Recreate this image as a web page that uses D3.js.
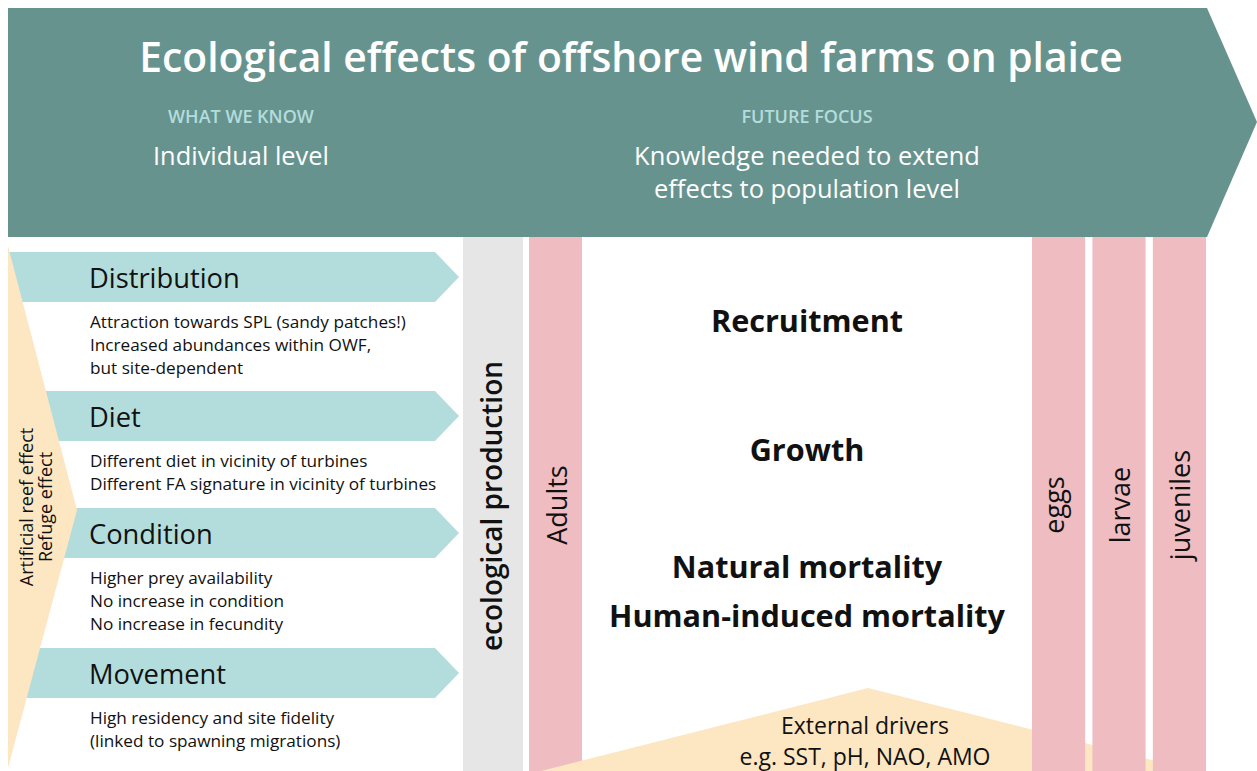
<!DOCTYPE html>
<html>
<head>
<meta charset="utf-8">
<script src="https://cdn.jsdelivr.net/npm/d3@7"></script>
<style>
  body { margin: 0; background: #fff; }
  svg { display: block; }
  text { font-family: "Open Sans", "Noto Sans", sans-serif; }
</style>
</head>
<body>
<script>
// Indhold: tekster til diagrammet
const title = "Ecological effects of offshore wind farms on plaice";
const headings = ["WHAT WE KNOW", "FUTURE FOCUS"];
const headingTexts = [["Individual level"], ["Knowledge needed to extend", "effects to population level"]];
const categories = ["Distribution", "Diet", "Condition", "Movement"];
const descriptions = [
  ["Attraction towards SPL (sandy patches!)", "Increased abundances within OWF,", "but site-dependent"],
  ["Different diet in vicinity of turbines", "Different FA signature in vicinity of turbines"],
  ["Higher prey availability", "No increase in condition", "No increase in fecundity"],
  ["High residency and site fidelity", "(linked to spawning migrations)"]
];
const reefLabels = ["Artificial reef effect", "Refuge effect"];
const productionLabel = "ecological production";
const adultStage = "Adults";
const earlyStages = ["eggs", "larvae", "juveniles"];
const processes = ["Recruitment", "Growth", "Natural mortality", "Human-induced mortality"];
const drivers = ["External drivers", "e.g. SST, pH, NAO, AMO"];

const width = 1257, height = 771;
const teal = "#67938f", lightTeal = "#b3dddc", sand = "#fde6c2", pink = "#eebcc1", grey = "#e6e6e6", ink = "#111";

const svg = d3.select("body").append("svg").attr("width", width).attr("height", height);

// Banner øverst
svg.append("path")
  .attr("d", "M8,8 L1207,8 L1257,122 L1207,237 L8,237 Z")
  .attr("fill", teal);

svg.append("text")
  .attr("x", 631).attr("y", 72)
  .attr("text-anchor", "middle")
  .attr("fill", "#fff")
  .style("font-size", "40.8px").style("font-weight", 600)
  .text(title);

const headX = [241, 807];
headings.forEach((h, i) => {
  svg.append("text")
    .attr("x", headX[i]).attr("y", 123)
    .attr("text-anchor", "middle")
    .attr("fill", lightTeal)
    .style("font-size", "18px").style("font-weight", 600)
    .text(h);
  headingTexts[i].forEach((t, j) => {
    svg.append("text")
      .attr("x", headX[i]).attr("y", 165 + j * 33)
      .attr("text-anchor", "middle")
      .attr("fill", "#fff")
      .style("font-size", "25.4px")
      .text(t);
  });
});

// Pile for hver effekt-kategori
const barTops = [252, 391, 508, 648];
const barH = 50;

const bars = svg.selectAll("g.effect")
  .data(categories)
  .enter().append("g")
  .attr("class", "effect");

bars.append("path")
  .attr("d", (d, i) => {
    const y0 = barTops[i], y1 = y0 + barH;
    return `M8,${y0} L435,${y0} L459,${(y0 + y1) / 2} L435,${y1} L8,${y1} Z`;
  })
  .attr("fill", lightTeal);

bars.append("text")
  .attr("x", 89).attr("y", (d, i) => barTops[i] + 36)
  .attr("fill", ink)
  .style("font-size", "27.3px")
  .text(d => d);

bars.each(function(d, i) {
  d3.select(this).selectAll("text.desc")
    .data(descriptions[i])
    .enter().append("text")
    .attr("class", "desc")
    .attr("x", 90)
    .attr("y", (t, j) => barTops[i] + 76 + j * 23)
    .attr("fill", ink)
    .style("font-size", "17.2px")
    .text(t => t);
});

// Trekant til venstre (rev-effekt)
svg.append("path")
  .attr("d", "M8,246 L77,510 L8,768 Z")
  .attr("fill", sand);

const reefX = [33, 52];
reefLabels.forEach((t, i) => {
  svg.append("text")
    .attr("transform", `translate(${reefX[i]},507) rotate(-90)`)
    .attr("text-anchor", "middle")
    .attr("fill", ink)
    .style("font-size", "18px")
    .text(t);
});

// Grå kolonne
svg.append("rect")
  .attr("x", 463).attr("y", 237).attr("width", 60).attr("height", height - 237)
  .attr("fill", grey);
svg.append("text")
  .attr("transform", "translate(502,506) rotate(-90)")
  .attr("text-anchor", "middle")
  .attr("fill", ink)
  .style("font-size", "28px").style("font-weight", 600)
  .text(productionLabel);

// Voksne
svg.append("rect")
  .attr("x", 529).attr("y", 237).attr("width", 53).attr("height", height - 237)
  .attr("fill", pink);
svg.append("text")
  .attr("transform", "translate(567,505) rotate(-90)")
  .attr("text-anchor", "middle")
  .attr("fill", ink)
  .style("font-size", "27px")
  .text(adultStage);

// Ydre drivere (trekant nederst)
svg.append("path")
  .attr("d", "M541,771 L868,688 L1195,771 Z")
  .attr("fill", sand);

drivers.forEach((t, i) => {
  svg.append("text")
    .attr("x", 865).attr("y", 734 + i * 31)
    .attr("text-anchor", "middle")
    .attr("fill", ink)
    .style("font-size", "23px")
    .text(t);
});

// Tidlige livsstadier
const stageX = d3.scaleBand().domain(earlyStages).range([1032, 1206]).paddingInner(0.12);
// "eggs" har ingen overlængder, så den skal lidt mere mod venstre
const baselineShift = d => d === "eggs" ? 5 : 11;

const stages = svg.selectAll("g.stage")
  .data(earlyStages)
  .enter().append("g")
  .attr("class", "stage");

stages.append("rect")
  .attr("x", d => stageX(d)).attr("y", 237)
  .attr("width", stageX.bandwidth()).attr("height", height - 237)
  .attr("fill", pink);

stages.append("text")
  .attr("transform", d => `translate(${stageX(d) + stageX.bandwidth() / 2 + baselineShift(d)},505) rotate(-90)`)
  .attr("text-anchor", "middle")
  .attr("fill", ink)
  .style("font-size", "27px")
  .text(d => d);

// Processer i midten
const processY = [332, 461, 578, 627];
svg.selectAll("text.process")
  .data(processes)
  .enter().append("text")
  .attr("class", "process")
  .attr("x", 807).attr("y", (d, i) => processY[i])
  .attr("text-anchor", "middle")
  .attr("fill", ink)
  .style("font-size", "30.6px").style("font-weight", 700)
  .text(d => d);
</script>
</body>
</html>
